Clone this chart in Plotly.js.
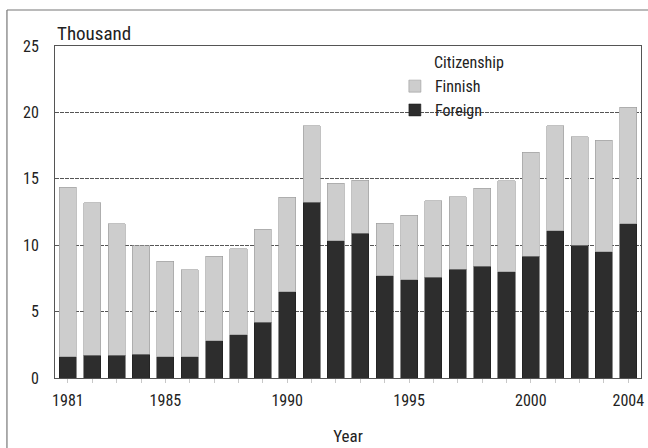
<!DOCTYPE html>
<html>
<head>
<meta charset="utf-8">
<script src="https://cdn.plot.ly/plotly-3.0.1.min.js"></script>
<style>html,body{margin:0;padding:0;background:#fff;}#chart{width:648px;height:448px;}</style>
</head>
<body>
<div id="chart"></div>
<script>
const years = [1981,1982,1983,1984,1985,1986,1987,1988,1989,1990,1991,1992,1993,1994,1995,1996,1997,1998,1999,2000,2001,2002,2003,2004];
const totals = [14.35,13.2,11.6,9.95,8.8,8.15,9.15,9.75,11.2,13.6,19.0,14.65,14.9,11.65,12.25,13.35,13.65,14.3,14.85,17.0,19.0,18.15,17.9,20.4];
const foreign = [1.6,1.7,1.7,1.8,1.6,1.6,2.8,3.25,4.2,6.5,13.25,10.35,10.9,7.7,7.4,7.6,8.2,8.4,8.0,9.15,11.1,10.0,9.5,11.6];
const finnish = totals.map((t,i)=>+(t-foreign[i]).toFixed(2));
const labelYears = [1981,1985,1990,1995,2000,2004];
const tickText = years.map(y => labelYears.includes(y) ? String(y) : '');
const seriesNames = ['Foreign','Finnish'];

const FONT = 'Liberation Sans Narrow, Arial Narrow, Roboto Condensed, Liberation Sans, sans-serif';

const traces = [
  {
    type:'bar', name: seriesNames[0], x: years, y: foreign,
    marker:{color:'#262626', line:{color:'#1a1a1a', width:0.5},
      pattern:{shape:'.', fgcolor:'#3a3a3a', bgcolor:'#222222', size:2, solidity:0.5}},
    hoverinfo:'x+y'
  },
  {
    type:'bar', name: seriesNames[1], x: years, y: finnish,
    marker:{color:'#d2d2d2', line:{color:'#9a9a9a', width:0.6},
      pattern:{shape:'.', fgcolor:'#bdbdbd', bgcolor:'#dadada', size:2, solidity:0.5}},
    hoverinfo:'x+y'
  }
];

const layout = {
  width:648, height:448,
  margin:{l:55, r:7, t:46, b:70},
  paper_bgcolor:'#ffffff', plot_bgcolor:'#ffffff',
  font:{family:FONT, size:15, color:'#222'},
  barmode:'stack', bargap:0.3,
  showlegend:true,
  legend:{x:0.58, y:0.93, xanchor:'left', yanchor:'top', bgcolor:'rgba(0,0,0,0)',
    font:{family:FONT, size:16, color:'#222'}, traceorder:'reversed',
    itemwidth:30, tracegroupgap:0},
  xaxis:{
    range:[1980.47, 2004.52], tickmode:'array', tickvals: years, ticktext: tickText,
    ticks:'outside', ticklen:4, tickcolor:'#c8c8c8', tickwidth:1,
    ticklabelstandoff:4,
    showgrid:false, zeroline:false,
    showline:true, linecolor:'#555', linewidth:1, mirror:true,
    tickfont:{family:FONT, size:16, color:'#222'},
    title:{text:'Year', font:{family:FONT, size:17, color:'#222'}, standoff:20}
  },
  yaxis:{
    range:[0,25], tickmode:'array', tickvals:[0,5,10,15,20,25],
    ticks:'', ticklabelstandoff:12,
    showgrid:true, gridcolor:'#555555', gridwidth:1, griddash:'4px,1px',
    zeroline:false, showline:true, linecolor:'#555', linewidth:1, mirror:true,
    tickfont:{family:FONT, size:16, color:'#222'}
  },
  annotations:[
    {text:'Thousand', xref:'paper', yref:'paper', x:0, y:1.0, xanchor:'left', yanchor:'bottom',
      showarrow:false, font:{family:FONT, size:19, color:'#222'}, yshift:-1},
    {text:'Citizenship', xref:'paper', yref:'paper', x:0.643, y:0.95, xanchor:'left', yanchor:'middle',
      showarrow:false, font:{family:FONT, size:16, color:'#222'}}
  ],
  shapes:[
    {type:'line', xref:'paper', yref:'paper', x0:-0.082, x1:1.02, y0:1.1084, y1:1.1084, line:{color:'#777', width:1.2}},
    {type:'line', xref:'paper', yref:'paper', x0:-0.082, x1:-0.082, y0:1.1084, y1:-0.25, line:{color:'#777', width:1.2}}
  ]
};

Plotly.newPlot('chart', traces, layout, {displayModeBar:false, staticPlot:true});
</script>
</body>
</html>
